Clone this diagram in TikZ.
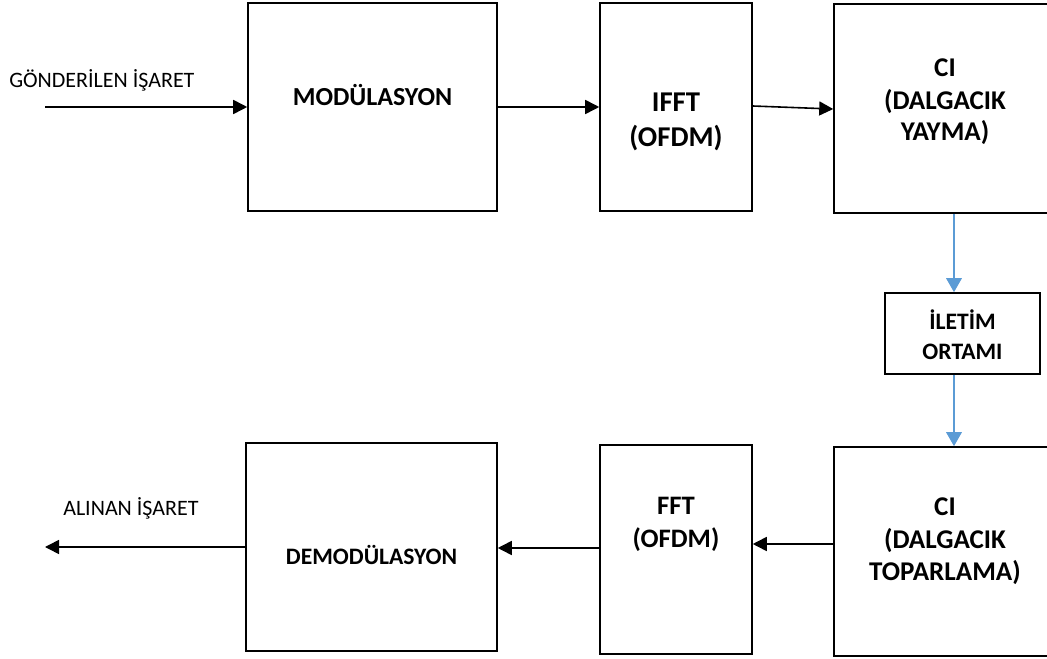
\documentclass[tikz,border=0pt]{standalone}
\usepackage{fontspec}
\setmainfont{Carlito}
\usetikzlibrary{arrows.meta,fit,calc}
\definecolor{oblue}{RGB}{91,155,213}
\tikzset{
  blk/.style={draw=black,line width=1.15pt,inner sep=0pt},
  arr/.style={line width=1.2pt,-{Triangle[length=10.5pt,width=10.5pt]}},
  barr/.style={draw=oblue,line width=1.6pt,-{Triangle[length=10.5pt,width=11.5pt]},oblue},
  bigl/.style={font=\bfseries\fontsize{19.5}{23}\selectfont,anchor=base,inner sep=0pt},
  fftl/.style={font=\bfseries\fontsize{20}{24}\selectfont,anchor=base,inner sep=0pt},
  ofdml/.style={font=\bfseries\fontsize{21.5}{25}\selectfont,anchor=base,inner sep=0pt},
  cil/.style={font=\bfseries\fontsize{20.3}{24}\selectfont,anchor=base,inner sep=0pt},
  midl/.style={font=\bfseries\fontsize{17.7}{21}\selectfont,anchor=base,inner sep=0pt},
  sigl/.style={font=\fontsize{16.5}{19}\selectfont,anchor=base west,inner sep=0pt}
}
\begin{document}
\begin{tikzpicture}[x=0.75pt,y=-0.75pt]
\useasboundingbox (0,0) rectangle (1047,659);
\clip (0,0) rectangle (1047,659);
% boxes
\node[blk,fit={(248,3) (497,211)}] (mod) {};
\node[blk,fit={(600,3) (752,211)}] (ifft) {};
\node[blk,fit={(834,4) (1060,213)}] (ci1) {};
\node[blk,fit={(885,293) (1040,374)}] (ilet) {};
\node[blk,fit={(834,447) (1060,656)}] (ci2) {};
\node[blk,fit={(600,445) (752,654)}] (fft) {};
\node[blk,fit={(246,443) (497,651)}] (demod) {};
% texts
\node[sigl] (tin) at (9,88) {GÖNDERİLEN İŞARET};
\node[sigl] (tout) at (63,515) {ALINAN İŞARET};
\node[bigl] (tmod) at (372.5,106) {MODÜLASYON};
\node[ofdml] (tifft1) at (676,112) {IFFT};
\node[ofdml] (tifft2) at (676,147) {(OFDM)};
\node[cil] (tci1a) at (945,77) {CI};
\node[cil] (tci1b) at (945,110) {(DALGACIK};
\node[cil] (tci1c) at (945,141) {YAYMA)};
\node[midl] (til1) at (962.5,330) {İLETİM};
\node[midl] (til2) at (962.5,360) {ORTAMI};
\node[fftl] (tfft1) at (676,514) {FFT};
\node[fftl] (tfft2) at (676,547) {(OFDM)};
\node[cil] (tci2a) at (945,515) {CI};
\node[cil] (tci2b) at (945,548) {(DALGACIK};
\node[cil] (tci2c) at (945,580) {TOPARLAMA)};
\node[midl] (tdemod) at (371.5,564) {DEMODÜLASYON};
% free ends
\coordinate (inS) at (45,107);
\coordinate (outE) at (45,547);
% connectors
\draw[arr] (inS) -- (inS -| mod.west);
\draw[arr] (mod.east) -- (ifft.west);
\draw[arr] ([yshift=0.75pt]ifft.east) -- ([yshift=-0.4pt]ci1.west);
\draw[barr] (ci1.south -| 954,0) -- (ilet.north -| 954,0);
\draw[barr] (ilet.south -| 954,0) -- (ci2.north -| 954,0);
\draw[arr] (ci2.west |- 0,544) -- (fft.east |- 0,544);
\draw[arr] (fft.west |- 0,548) -- (demod.east |- 0,548);
\draw[arr] (demod.west |- outE) -- (outE);
\end{tikzpicture}
\end{document}
